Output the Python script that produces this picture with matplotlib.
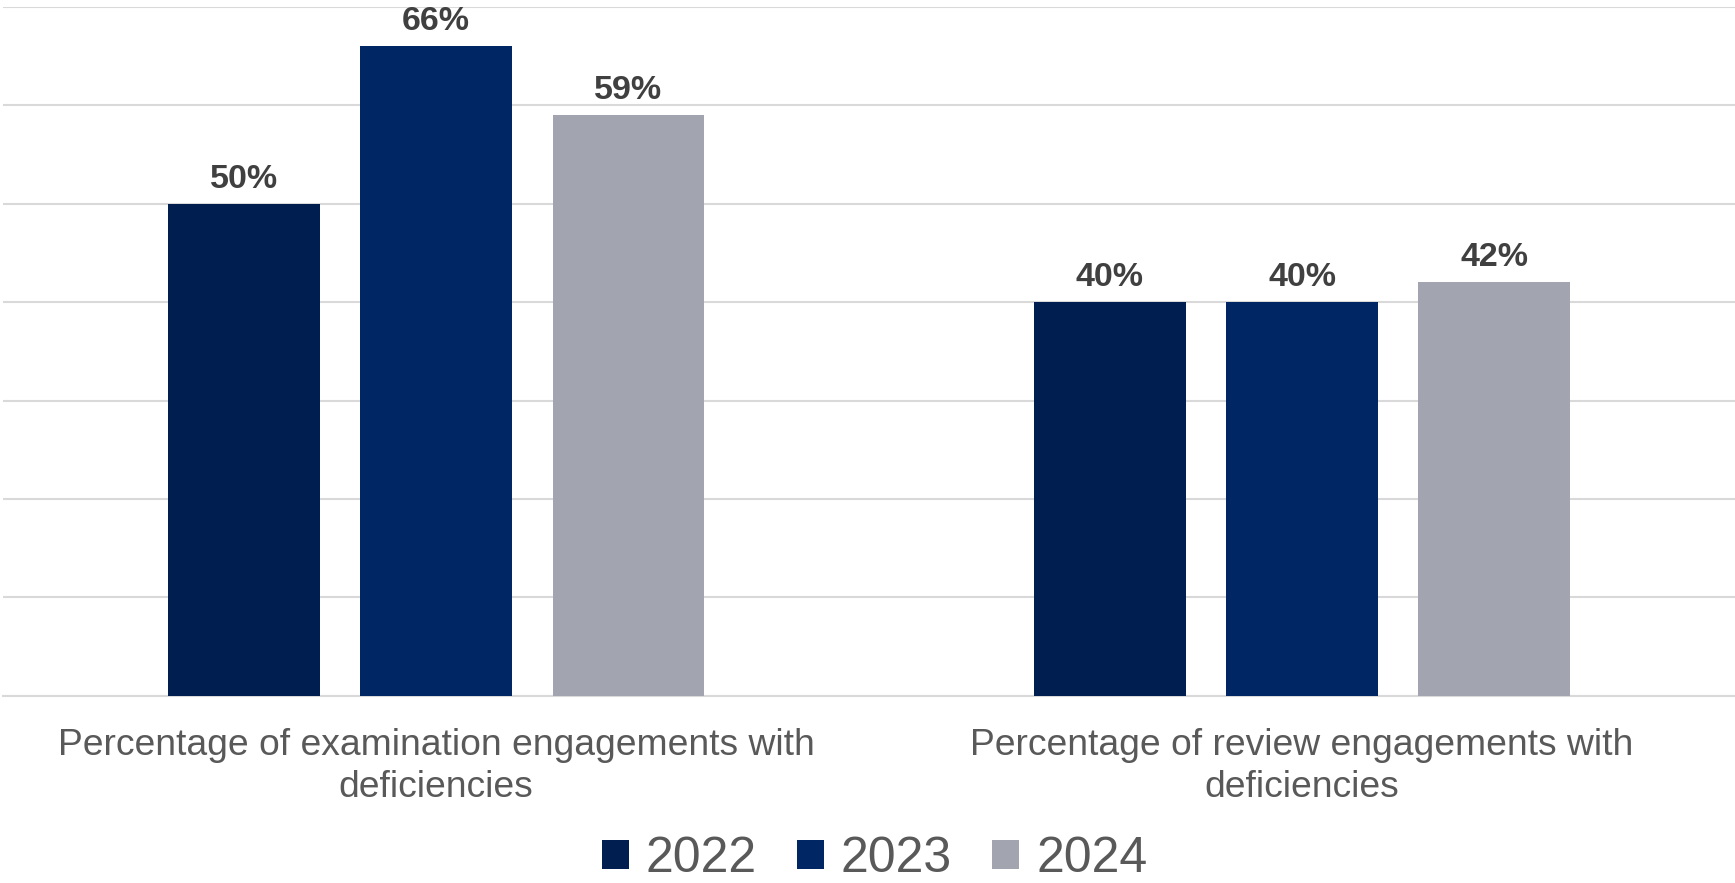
import matplotlib
matplotlib.use("Agg")
import matplotlib.pyplot as plt
from matplotlib.patches import Patch
import numpy as np

categories = ["Percentage of examination engagements with\ndeficiencies",
              "Percentage of review engagements with\ndeficiencies"]
years = ["2022", "2023", "2024"]
values_2022 = [50, 40]
values_2023 = [66, 40]
values_2024 = [59, 42]
series = [values_2022, values_2023, values_2024]
colors = ["#001E50", "#002663", "#A2A4B0"]

plt.rcParams['font.family'] = ['Liberation Sans', 'DejaVu Sans']

fig = plt.figure(figsize=(17.35, 8.83), dpi=100)
ax = fig.add_axes([0.0018, 0.2118, 0.9982, 0.7808])

x = np.arange(len(categories))
offsets = [-0.222, 0.0, 0.222]
width = 0.175
for vals, off, col in zip(series, offsets, colors):
    bars = ax.bar(x + off, vals, width, color=col, zorder=3)
    for b, v in zip(bars, vals):
        ax.annotate(f"{v}%", (b.get_x() + b.get_width() / 2, v),
                    xytext=(0, 11.5), textcoords="offset points",
                    ha="center", va="baseline", fontsize=24.5,
                    fontweight="bold", color="#404040")

ax.set_xlim(-0.5, 1.5)
ax.set_ylim(0, 70)
ax.set_yticks(np.arange(0, 71, 10))
ax.yaxis.grid(True, color="#D9D9D9", linewidth=1.5, zorder=0)
ax.tick_params(axis="y", left=False, labelleft=False)
ax.set_xticks(x)
ax.set_xticklabels(categories, fontsize=26.8, color="#595959", linespacing=1.28)
ax.tick_params(axis="x", length=0, pad=23)
for s in ["top", "right", "left"]:
    ax.spines[s].set_visible(False)
ax.spines["bottom"].set_color("#D9D9D9")
ax.spines["bottom"].set_linewidth(1.5)

handles = [Patch(facecolor=c, label=y) for c, y in zip(colors, years)]
fig.legend(handles=handles, loc="center", bbox_to_anchor=(0.504, 0.027),
           ncol=3, frameon=False, fontsize=36, labelcolor="#595959",
           handlelength=0.54, handleheight=0.54, handletextpad=0.34,
           columnspacing=0.8, borderpad=0, borderaxespad=0)

fig.savefig("out.png", dpi=100)
